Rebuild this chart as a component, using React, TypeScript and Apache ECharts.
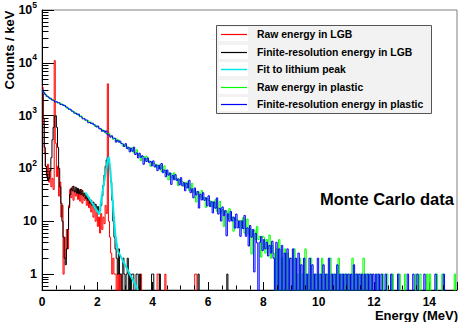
import React, { useEffect, useRef } from 'react';
import * as echarts from 'echarts';

const W = 463;
const H = 322;
const FONT = '"Liberation Sans", Arial, Helvetica, sans-serif';

// ---- axes ----
const X_MIN = 0;
const X_MAX = 15;
const X_INTERVAL = 2;
const X_MINOR_STEP = 0.5;
const Y_MIN = 0.5;
const Y_MAX = 100000;
const yDecades = [0.1, 1, 10, 100, 1000, 10000];
const yMinorMantissas = [2, 3, 4, 5, 6, 7, 8, 9];
const FLOOR = 0.01; // empty bins drawn down to the bottom of the log axis

// ---- LGB histograms, 0.04 MeV bins from 0 to 4 MeV, then sparse single counts ----
const LGB_BIN = 0.04;
const LGB_NBINS = 170;
const rawLGB = [
  3500, 700, 200, 110, 70, 120, 55, 95, 45, 65,
  40, 11000, 300, 70, 110, 30, 55, 12, 20, 1,
  5, 2, 7, 3, 20, 40, 28, 45, 25, 38,
  30, 42, 26, 36, 24, 40, 22, 34, 25, 30,
  20, 28, 18, 25, 15, 22, 12, 18, 10, 15,
  8, 12, 6, 14, 7, 12, 9, 20, 14, 4000,
  10, 5, 2.5, 1, 2, 1, 1, 0, 1, 0,
  1, 0, 0, 0, 0, 0, 0, 0, 0, 0,
  0, 0, 0, 0, 0, 0, 0, 0, 0, 1,
];
const rawLGBTail = [[4.16, 1], [4.2, 1], [4.44, 1], [5.52, 1], [5.56, 1]];
const resLGB = [
  2600, 900, 250, 110, 75, 60, 65, 90, 160, 350,
  600, 980, 1000, 600, 250, 100, 45, 22, 10, 5,
  2, 1.5, 3, 7, 18, 32, 42, 38, 46, 36,
  44, 34, 42, 33, 40, 32, 38, 30, 34, 27,
  31, 25, 28, 22, 25, 20, 23, 18, 21, 16,
  19, 14, 16, 20, 30, 48, 75, 110, 145, 165,
  150, 100, 55, 25, 10, 5, 3, 2, 1, 3,
  1, 1, 0, 2, 1, 0, 1, 2, 0, 1,
  0, 1, 1, 0, 0, 1, 1, 0, 1, 0,
];
const resLGBTail = [[3.96, 1], [4.0, 1], [4.24, 1], [5.64, 1], [6.68, 1]];

// ---- fit to the lithium peak ----
const fitX = [1.57, 2.07, 2.15, 2.25, 2.33, 2.38, 2.4, 2.43, 2.5, 2.58, 2.65, 2.74, 3.47];
const fitY = [35, 13.5, 27.5, 57, 102, 150, 165, 150, 56, 16, 5.6, 2.75, 0.5];

// ---- plastic histograms, 0.05 MeV bins from 0 to 15 MeV ----
const PL_BIN = 0.05;
const rawPlastic = [
  3030, 2765, 2490, 2395, 2225, 2190, 2020, 1995, 1990, 1850, 1835, 1725, 1735, 1710, 1625, 1625, 1515, 1470, 1365, 1355,
  1300, 1250, 1175, 1160, 1090, 1100, 1005, 985, 980, 895, 880, 800, 815, 795, 740, 755, 695, 680, 625, 635,
  610, 585, 545, 545, 505, 520, 460, 455, 465, 410, 405, 355, 370, 365, 330, 345, 310, 300, 265, 280,
  269, 262, 231, 248, 217, 247, 196, 202, 227, 178, 187, 140, 168, 169, 145, 171, 137, 140, 110, 133,
  124, 122, 105, 117, 99, 119, 88, 94.5, 112, 81.9, 88.3, 60.8, 78.9, 80.4, 65.9, 82.6, 62.7, 65.2, 47.2, 61.8,
  57.4, 56.2, 46.1, 53.8, 43.5, 56.5, 38.1, 42, 52.4, 35.3, 39.5, 23.2, 34.7, 36, 27.8, 38.2, 26.7, 28.5, 18.3, 27.2,
  24.8, 24.4, 18.9, 23.6, 17.9, 25.6, 15.3, 17.8, 23.9, 14.4, 16.9, 8, 14.7, 15.7, 11.2, 17.3, 10.9, 12.1, 6.5, 11.7,
  10.6, 10.5, 7.6, 10.3, 7.2, 11.7, 6, 7.5, 11, 5.8, 7.3, 2.4, 6.3, 6.8, 4.5, 8, 4.5, 5.2, 2.1, 5.2,
  5, 2.5, 4.5, 3, 5.5, 2, 3.5, 2.5, 0, 3, 0, 4.5, 0, 2, 0, 3, 0, 2.5, 0, 2,
  2, 0, 3, 0, 1, 0, 2, 0, 1, 0, 3, 0, 1, 0, 2, 0, 1, 0, 1, 0,
  1, 0, 2, 0, 1, 0, 1, 0, 2, 0, 1, 0, 1, 0, 2, 0, 1, 0, 1, 0,
  1, 0, 1, 0, 2, 0, 1, 0, 1, 0, 1, 0, 2, 0, 1, 0, 1, 0, 1, 0,
  0, 0, 1, 0, 0, 0, 1, 0, 0, 1, 0, 0, 0, 1, 0, 0, 0, 0, 1, 0,
  0, 0, 1, 0, 0, 0, 0, 0, 0, 0, 1, 0, 0, 1, 0, 0, 0, 0, 1, 0,
  1, 0, 0, 0, 0, 1, 0, 0, 0, 1, 0, 0, 0, 0, 0, 0, 0, 0, 1, 0,
];
const resPlastic = [
  3080, 2720, 2525, 2320, 2265, 2130, 2115, 1960, 1940, 1815, 1850, 1765, 1745, 1620, 1650, 1560, 1555, 1450, 1410, 1315,
  1330, 1220, 1200, 1110, 1120, 1055, 1075, 960, 945, 870, 890, 830, 820, 735, 755, 710, 725, 670, 660, 610,
  635, 565, 565, 505, 525, 485, 510, 435, 435, 390, 415, 375, 375, 315, 345, 315, 330, 295, 290, 260,
  295, 238, 252, 206, 241, 211, 253, 183, 197, 158, 195, 163, 174, 120, 157, 135, 158, 130, 136, 112,
  139, 107, 117, 91, 114, 97, 124, 83, 93, 69.5, 93.6, 74.9, 82.6, 49.9, 73.8, 61, 76.2, 59.2, 63.4, 49,
  67.1, 46.9, 53.9, 37.8, 52.8, 42.7, 59.7, 34.8, 41.1, 27.8, 42.7, 31.6, 36.9, 17.8, 32.5, 25.3, 34.7, 24.9, 27.9, 19.6,
  30.4, 19, 23.4, 14.4, 23.2, 17.7, 27.7, 13.7, 17.5, 10.1, 18.7, 12.8, 16, 5.3, 13.8, 10, 15.4, 10.1, 12, 7.4,
  13.7, 7.5, 10.1, 5.2, 10.2, 7.3, 12.9, 5.2, 7.5, 3.4, 8.3, 5, 7, 1.1, 5.9, 3.9, 0, 4, 5.1, 2.8,
  4.5, 3, 4, 2.2, 3.5, 2.5, 4.2, 2, 0, 4, 0, 3, 0, 3.5, 0, 2.5, 0, 3, 0, 2,
  0, 3, 0, 2, 0, 2.5, 0, 1.5, 0, 2, 0, 1, 0, 2, 0, 1.5, 0, 1, 0, 2,
  0, 1, 0, 1.5, 0, 1, 0, 2, 0, 1, 0, 1, 0, 1.5, 0, 1, 0, 1, 0, 1,
  0, 1, 0, 1, 0, 1.5, 0, 1, 0, 1, 0, 1, 0, 1, 0, 1, 0, 1, 0, 1,
  0, 1, 0, 1, 0, 1, 0, 0, 1, 0, 0, 0, 1, 0, 0, 0, 0, 1, 0, 0,
  0, 0, 0, 0, 1, 0, 0, 0, 1, 0, 0, 1, 0, 0, 0, 0, 1, 0, 0, 0,
  0, 0, 0, 0, 1, 0, 0, 0, 0, 0, 1, 0, 0, 0, 0, 0, 0, 0, 0, 0,
];

const seriesNames = [
  'Raw energy in LGB',
  'Finite-resolution energy in LGB',
  'Fit to lithium peak',
  'Raw energy in plastic',
  'Finite-resolution energy in plastic',
];
const seriesColors = ['#ff0000', '#000000', '#00e8e8', '#00ff00', '#0000ff'];

function histPoints(values: number[], width: number, tail: number[][] = [], nBins?: number) {
  const n = nBins ?? values.length;
  const bins: number[] = new Array(n).fill(0);
  values.forEach((v, i) => {
    if (i < n) bins[i] = v;
  });
  tail.forEach(([e, v]) => {
    const i = Math.round(e / width);
    if (i < n) bins[i] = v;
  });
  const pts = bins.map((v, i) => [+(i * width).toFixed(4), v > 0 ? v : FLOOR]);
  pts.push([+(n * width).toFixed(4), pts[n - 1][1]]);
  return pts;
}

export default function App() {
  const ref = useRef<HTMLDivElement>(null);

  useEffect(() => {
    document.body.style.margin = '0';
    if (!ref.current) return;
    const chart = echarts.init(ref.current, undefined, { renderer: 'svg', width: W, height: H });

    const yMinor: number[][] = [];
    yDecades.forEach((d) => {
      yMinorMantissas.forEach((m) => {
        const v = d * m;
        if (v > Y_MIN && v < Y_MAX) yMinor.push([X_MIN, v]);
      });
    });
    const xMinor: number[][] = [];
    for (let x = X_MIN + X_MINOR_STEP; x < X_MAX; x += X_MINOR_STEP) {
      if (Math.abs(x / X_INTERVAL - Math.round(x / X_INTERVAL)) > 1e-6) xMinor.push([x, Y_MIN]);
    }

    const line = (i: number, data: number[][], width = 1, step: any = 'end') => ({
      type: 'line',
      name: seriesNames[i],
      data,
      step,
      showSymbol: false,
      symbol: 'none',
      clip: true,
      silent: true,
      lineStyle: { color: seriesColors[i], width },
      itemStyle: { color: seriesColors[i] },
    });

    const legendRows = [34, 52, 69, 87, 104];
    const legendGraphics: any[] = [
      {
        type: 'rect',
        shape: { x: 216.5, y: 25.5, width: 215, height: 88 },
        style: { fill: '#f2f2f2', stroke: '#555', lineWidth: 1 },
        z: 10,
      },
    ];
    seriesNames.forEach((name, i) => {
      const y = legendRows[i];
      legendGraphics.push(
        { type: 'rect', shape: { x: 219, y: y - 7, width: 29, height: 14 }, style: { fill: '#ffffff' }, z: 11 },
        {
          type: 'line',
          shape: { x1: 221, y1: y + 0.5, x2: 247, y2: y + 0.5 },
          style: { stroke: seriesColors[i], lineWidth: i === 2 ? 1.5 : 1.2 },
          z: 12,
        },
        {
          type: 'text',
          x: 257,
          y: y + 0.5,
          style: {
            text: name,
            fill: '#000',
            font: `bold 10.4px ${FONT}`,
            verticalAlign: 'middle',
            align: 'left',
          },
          z: 12,
        }
      );
    });

    const option: any = {
      animation: false,
      backgroundColor: '#ffffff',
      grid: {
        left: 42,
        right: 6,
        top: 9,
        bottom: 32,
        show: true,
        borderColor: '#808080',
        borderWidth: 1,
        backgroundColor: 'transparent',
      },
      xAxis: {
        type: 'value',
        min: X_MIN,
        max: X_MAX,
        interval: X_INTERVAL,
        axisLine: { show: true, onZero: false, lineStyle: { color: '#000', width: 1 } },
        axisTick: { show: true, inside: true, length: 8, lineStyle: { color: '#000' } },
        minorTick: { show: false },
        splitLine: { show: false },
        axisLabel: {
          margin: 6,
          color: '#000',
          fontFamily: FONT,
          fontWeight: 'bold',
          fontSize: 12,
          lineHeight: 12,
          formatter: (v: number) => (Math.abs(v / X_INTERVAL - Math.round(v / X_INTERVAL)) < 1e-6 ? String(v) : ''),
        },
      },
      yAxis: {
        type: 'log',
        logBase: 10,
        min: Y_MIN,
        max: Y_MAX,
        axisLine: { show: true, lineStyle: { color: '#000', width: 1 } },
        axisTick: { show: true, inside: true, length: 12, lineStyle: { color: '#000' } },
        splitLine: { show: false },
        axisLabel: {
          margin: 5,
          color: '#000',
          formatter: (v: number) => {
            const e = Math.log10(v);
            const r = Math.round(e);
            if (Math.abs(e - r) > 1e-6) return '';
            if (r === 0) return '{b|1}';
            if (r === 1) return '{b|10}';
            return `{b|10}{s|${r}}`;
          },
          rich: {
            b: { fontSize: 12.5, fontWeight: 'bold', fontFamily: FONT, color: '#000', lineHeight: 20 },
            s: {
              fontSize: 8.5,
              fontWeight: 'bold',
              fontFamily: FONT,
              color: '#000',
              lineHeight: 9,
              verticalAlign: 'top',
            },
          },
        },
      },
      series: [
        line(0, histPoints(rawLGB, LGB_BIN, rawLGBTail, LGB_NBINS)),
        line(1, histPoints(resLGB, LGB_BIN, resLGBTail, LGB_NBINS)),
        line(2, fitX.map((x, i) => [x, fitY[i]]), 2, false),
        line(3, histPoints(rawPlastic, PL_BIN)),
        line(4, histPoints(resPlastic, PL_BIN)),
        {
          type: 'custom',
          data: yMinor,
          silent: true,
          z: 5,
          renderItem: (_p: any, api: any) => {
            const pt = api.coord([api.value(0), api.value(1)]);
            const x = Math.round(pt[0]) + 0.5;
            const y = Math.round(pt[1]) + 0.5;
            return { type: 'line', shape: { x1: x, y1: y, x2: x + 6, y2: y }, style: { stroke: '#000', lineWidth: 1 } };
          },
        },
        {
          type: 'custom',
          data: xMinor,
          silent: true,
          z: 5,
          renderItem: (_p: any, api: any) => {
            const pt = api.coord([api.value(0), api.value(1)]);
            const x = Math.round(pt[0]) + 0.5;
            const y = Math.round(pt[1]) - 0.5;
            return { type: 'line', shape: { x1: x, y1: y, x2: x, y2: y - 4 }, style: { stroke: '#000', lineWidth: 1 } };
          },
        },
      ],
      graphic: [
        ...legendGraphics,
        {
          type: 'text',
          x: 320,
          y: 199,
          style: { text: 'Monte Carlo data', fill: '#000', font: `bold 16.5px ${FONT}`, verticalAlign: 'middle' },
          z: 12,
        },
        {
          type: 'text',
          x: 9.5,
          y: 50,
          rotation: Math.PI / 2,
          style: {
            text: 'Counts / keV',
            fill: '#000',
            font: `bold 13px ${FONT}`,
            align: 'center',
            verticalAlign: 'middle',
          },
          z: 12,
        },
        {
          type: 'text',
          x: 458,
          y: 315.5,
          style: {
            text: 'Energy (MeV)',
            fill: '#000',
            font: `bold 13px ${FONT}`,
            lineHeight: 13,
            align: 'right',
            verticalAlign: 'middle',
          },
          z: 12,
        },
      ],
    };

    chart.setOption(option);
    return () => chart.dispose();
  }, []);

  return <div ref={ref} style={{ width: W, height: H }} />;
}
